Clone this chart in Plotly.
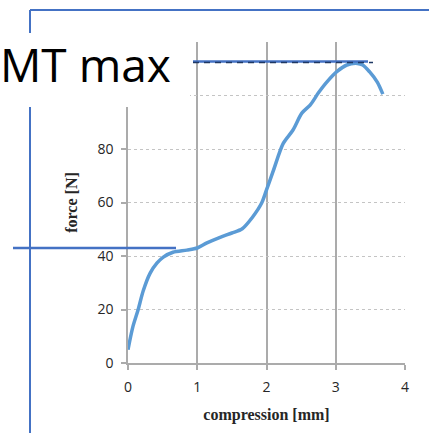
import plotly.graph_objects as go

# ---- data ----
compression = [0, 0.07, 0.145, 0.22, 0.32, 0.42, 0.51, 0.65, 0.85, 1.0, 1.14, 1.33, 1.5,
               1.65, 1.8, 1.93, 2.0, 2.1, 2.24, 2.38, 2.51, 2.63, 2.75, 2.87, 3.02, 3.16,
               3.31, 3.39, 3.49, 3.6, 3.68]
force = [5, 13.5, 19.8, 27, 33.6, 37.4, 39.6, 41.4, 42.2, 43, 44.9, 47, 48.6,
         50.2, 54.6, 59.8, 64.7, 72, 82, 87, 93.4, 96.4, 101, 105, 109, 111.4,
         112, 111.4, 108.8, 105, 100.5]
x_ticks = [0, 1, 2, 3, 4]
y_ticks = [0, 20, 40, 60, 80, 100, 120]
y_tick_labels = ["0", "20", "40", "60", "80", "", ""]  # 100 / 120 hidden under label box
plateau_force = 43
mt_max_force = 112.7
label_text = "MT max"

W, H = 429, 433
L, R, T, B = 128, 24, 42, 70
PW, PH = W - L - R, H - T - B


def px_x(p):
    return (p - L) / PW


def px_y(p):
    return (H - B - p) / PH


fig = go.Figure()
fig.add_trace(go.Scatter(
    x=compression, y=force, mode="lines",
    line=dict(color="#5B9BD5", width=3.5, shape="spline", smoothing=0.8),
    hoverinfo="skip", showlegend=False))

blue = "#4472C4"
shapes = [
    dict(type="line", xref="paper", yref="paper", x0=px_x(30), x1=px_x(429),
         y0=px_y(10), y1=px_y(10), line=dict(color=blue, width=2), layer="above"),
    dict(type="line", xref="paper", yref="paper", x0=px_x(30), x1=px_x(30),
         y0=px_y(10), y1=px_y(433), line=dict(color=blue, width=2), layer="above"),
    dict(type="rect", xref="paper", yref="paper", x0=px_x(-2), x1=px_x(190),
         y0=px_y(33), y1=px_y(107), fillcolor="white", line=dict(width=0), layer="above"),
    dict(type="line", xref="paper", yref="y", x0=px_x(13), x1=px_x(176),
         y0=plateau_force, y1=plateau_force, line=dict(color=blue, width=2.5), layer="above"),
    dict(type="line", xref="paper", yref="y", x0=px_x(193), x1=px_x(368),
         y0=mt_max_force, y1=mt_max_force, line=dict(color=blue, width=2.5), layer="above"),
    dict(type="line", xref="paper", yref="y", x0=px_x(193), x1=px_x(373),
         y0=mt_max_force - 0.4, y1=mt_max_force - 0.4,
         line=dict(color="#1F3864", width=1.5, dash="6px,5px"), layer="above"),
]

fig.update_layout(
    width=W, height=H,
    margin=dict(l=L, r=R, t=T, b=B),
    paper_bgcolor="white", plot_bgcolor="white",
    shapes=shapes,
    annotations=[dict(text=label_text, xref="paper", yref="paper",
                      x=px_x(-2), y=px_y(64), xanchor="left", yanchor="middle",
                      showarrow=False,
                      font=dict(family="Open Sans", size=46, color="black"))],
    xaxis=dict(range=[0, 4], tickvals=x_ticks, showgrid=True, gridcolor="#ABABAB",
               gridwidth=1.5, showline=True, linecolor="#ABABAB", linewidth=1.5,
               zeroline=False, ticks="outside", ticklen=5, tickcolor="#ABABAB",
               tickwidth=1.5, ticklabelstandoff=5,
               tickfont=dict(family="Open Sans", size=14, color="#262626"),
               title=dict(text="<b>compression [mm]</b>", standoff=14,
                          font=dict(family="Liberation Serif", size=16, color="#262626"))),
    yaxis=dict(range=[0, 120], tickvals=y_ticks, ticktext=y_tick_labels, showgrid=True,
               gridcolor="#C4C4C4", gridwidth=1, griddash="dot", showline=True,
               linecolor="#ABABAB", linewidth=1.5, zeroline=False, ticks="outside",
               ticklen=5, tickcolor="#ABABAB", tickwidth=1.5, ticklabelstandoff=5,
               tickfont=dict(family="Open Sans", size=14, color="#262626"),
               title=dict(text="<b>force [N]</b>", standoff=16,
                          font=dict(family="Liberation Serif", size=16, color="#262626"))),
)

fig.write_html("out.html")
